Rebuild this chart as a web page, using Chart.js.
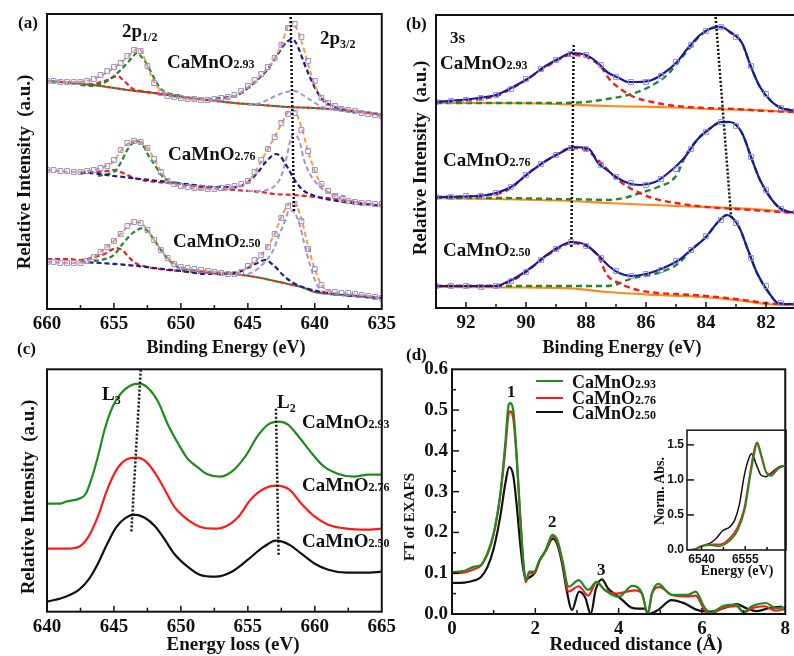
<!DOCTYPE html>
<html><head><meta charset="utf-8">
<script src="https://cdn.jsdelivr.net/npm/chart.js@4.4.1/dist/chart.umd.min.js"></script>
<style>
html,body{margin:0;padding:0;background:#fff;overflow:hidden;width:794px;height:656px;}
#wrap{position:relative;width:794px;height:656px;overflow:hidden;font-family:'Liberation Serif','Times New Roman',serif;font-weight:bold;color:#111;}
canvas{position:absolute;}
.t{position:absolute;white-space:nowrap;line-height:1;}
.c{transform:translate(-50%,-50%);}
.r{transform:translate(-50%,-50%) rotate(-90deg);}
.s{font-size:12px;}
sub{font-size:12px;vertical-align:-4px;}
.lg{position:absolute;height:0;border-top:2.5px solid;width:27px;}
</style></head><body><div id="wrap">
<canvas id="ca" width="400" height="340" style="left:0;top:0"></canvas>
<canvas id="cb" width="400" height="340" style="left:400px;top:0"></canvas>
<canvas id="cc" width="400" height="316" style="left:0;top:340px"></canvas>
<canvas id="cd" width="394" height="316" style="left:400px;top:340px"></canvas>
<canvas id="ci" width="144" height="160" style="left:650px;top:420px"></canvas>

<div class="t" style="left:18px;top:14px;font-size:17px">(a)</div>
<div class="t" style="left:122px;top:21px;font-size:19px">2p<sub>1/2</sub></div>
<div class="t" style="left:320px;top:28px;font-size:19px">2p<sub>3/2</sub></div>
<div class="t" style="left:167px;top:52px;font-size:19px">CaMnO<span class="s">2.93</span></div>
<div class="t" style="left:168px;top:144px;font-size:19px">CaMnO<span class="s">2.76</span></div>
<div class="t" style="left:173px;top:231px;font-size:19px">CaMnO<span class="s">2.50</span></div>
<div class="t r" style="left:23px;top:172px;font-size:19px">Relative Intensity&nbsp; (a.u.)</div>
<div class="t c" style="left:226px;top:347px;font-size:18px">Binding Energy (eV)</div>

<div class="t" style="left:406px;top:15px;font-size:17px">(b)</div>
<div class="t" style="left:450px;top:29px;font-size:17px">3s</div>
<div class="t" style="left:440px;top:53px;font-size:19px">CaMnO<span class="s">2.93</span></div>
<div class="t" style="left:443px;top:150px;font-size:19px">CaMnO<span class="s">2.76</span></div>
<div class="t" style="left:443px;top:240px;font-size:19px">CaMnO<span class="s">2.50</span></div>
<div class="t r" style="left:419px;top:158px;font-size:19px">Relative Intensity&nbsp; (a.u.)</div>
<div class="t c" style="left:622px;top:347px;font-size:18px">Binding Energy (eV)</div>

<div class="t" style="left:17px;top:340px;font-size:17px">(c)</div>
<div class="t" style="left:102px;top:384px;font-size:19px">L<sub>3</sub></div>
<div class="t" style="left:277px;top:392px;font-size:19px">L<sub>2</sub></div>
<div class="t" style="left:302px;top:412px;font-size:19px">CaMnO<span class="s">2.93</span></div>
<div class="t" style="left:302px;top:475px;font-size:19px">CaMnO<span class="s">2.76</span></div>
<div class="t" style="left:302px;top:531px;font-size:19px">CaMnO<span class="s">2.50</span></div>
<div class="t r" style="left:27px;top:497px;font-size:19px">Relative Intensity&nbsp; (a.u.)</div>
<div class="t c" style="left:233px;top:643px;font-size:19px">Energy loss (eV)</div>

<div class="t" style="left:406px;top:346px;font-size:17px">(d)</div>
<div class="t r" style="left:409px;top:517px;font-size:15px">FT of EXAFS</div>
<div class="t" style="left:507px;top:383px;font-size:17px">1</div>
<div class="t" style="left:548px;top:513px;font-size:17px">2</div>
<div class="t" style="left:597px;top:561px;font-size:17px">3</div>
<div class="lg" style="left:536px;top:380px;border-color:#1e8c1e"></div>
<div class="lg" style="left:536px;top:397px;border-color:#ff1a1a"></div>
<div class="lg" style="left:536px;top:411px;border-color:#111"></div>
<div class="t" style="left:572px;top:373px;font-size:18px">CaMnO<span class="s">2.93</span></div>
<div class="t" style="left:572px;top:389px;font-size:18px">CaMnO<span class="s">2.76</span></div>
<div class="t" style="left:572px;top:404px;font-size:18px">CaMnO<span class="s">2.50</span></div>
<div class="t c" style="left:636px;top:643px;font-size:19px">Reduced distance (Å)</div>
<div class="t r" style="left:660px;top:491px;font-size:14px">Norm. Abs.</div>
<div class="t c" style="left:737px;top:571px;font-size:14px">Energy (eV)</div>
</div>
<script>
// ---------- Panel (a): Mn 2p XPS ----------
const aEnergy = [660,659.5,659,658.5,658,657.5,657,656.5,656,655.5,655,654.5,654,653.5,653,652.5,652,651.5,651,650.5,650,649.5,649,648.5,648,647.5,647,646.5,646,645.5,645,644.5,644,643.5,643,642.5,642,641.5,641,640.5,640,639.5,639,638.5,638,637.5,637,636.5,636,635.5,635];
const aTickLabels = [660,655,650,645,640,635];
const a293Obs = [228,228,227,227,227,227,228,230,234,238,242,246,253,259,258,243,226,216,213,212,211,210,210,209,209,210,211,212,214,218,223,229,235,242,251,264,281,285,272,248,228,211,206,203,200,199,198,196,195,194,193];
const a276Obs = [139,139,138,138,137,137,138,139,141,143,149,159,166,168,167,161,150,137,128,125,123,122,121,121,120,120,121,122,123,125,128,137,149,160,172,186,195,196,179,158,139,125,118,113,110,108,107,106,106,105,105];
const a250Obs = [47,47,46,46,46,46,48,52,57,62,68,75,83,87,86,79,69,59,51,45,42,41,40,39,38,37,36,35,35,37,43,49,54,62,75,91,103,105,88,60,40,24,17,17,16,16,15,14,13,12,11];

const a293Fit = [[660,228],[658,227],[657,228],[656,233],[655,241],[654,252],[653.5,258],[653.2,261],[653,259],[652.5,243],[652,227],[651,214],[650,211],[648,209],[646,213],[645,222],[644,234],[643,250],[642.5,264],[642,283],[641.8,287],[641.5,284],[641,268],[640.5,245],[640,224],[639.5,212],[639,206],[638,201],[637,198],[636,195],[635,193]];
const a293Bg = [[660,228],[658,226],[656,223],[654,219],[652,216],[650,212],[648,209],[646,206],[644,204],[642,202],[640,201],[638,199],[636,196],[635,194]];
const a293Green = [[657.5,224],[656.5,223],[656,225],[655.5,228],[655,233],[654.5,239],[654,246],[653.6,252],[653.3,256],[653,253],[652.6,246],[652.2,236],[651.8,226],[651.4,219],[651,216],[650,213]];
const a293Red = [[657.5,224],[656.5,225],[656,227],[655.5,229],[655,232],[654.7,233],[654.4,230],[654,225],[653.6,220],[653,218],[652,216],[651,215],[650,213]];
const a293Blue = [[648,209],[647,211],[646,213],[645.5,216],[645,221],[644.3,229],[643.7,237],[643.3,244],[642.9,252],[642.6,258],[642.3,264],[642,268],[641.7,270],[641.4,266],[641.1,257],[640.8,246],[640.4,233],[639.9,219],[639.4,209],[638.7,203],[638,200],[637,197]];
const a293Lav = [[645,204],[644.3,205],[643.7,208],[643.1,212],[642.6,215],[642.1,217],[641.5,218],[640.9,214],[640.2,208],[639.4,202],[638.7,200],[638,199]];

const a276Fit = [[660,139],[658,137],[657,138],[656,141],[655,148],[654.5,158],[654,165],[653.5,168],[653,167],[652.5,161],[652,150],[651.5,138],[651,129],[650,123],[648,120],[646,122],[645,127],[644.5,136],[644,148],[643.5,160],[643,172],[642.5,185],[642,197],[641.7,199],[641.4,196],[641,182],[640.5,158],[640,138],[639.5,124],[639,117],[638,110],[637,107],[636,105],[635,104]];
const a276Blue = [[657.5,136],[657,136],[655,133],[653,130],[651,127],[649,124],[647.5,122],[646,122],[645.5,123],[645,127],[644.3,136],[643.6,148],[642.9,155],[642.6,153],[642.1,143],[641.5,129],[640.9,119],[640.2,114],[639.2,110],[637.8,107],[635,103]];
const a276Red = [[657.5,137],[656.5,137],[655.5,138],[655,139],[654.5,137],[654,134],[653.5,131],[652.5,128],[651,126],[649.5,124],[648,121],[646,119],[644,117],[643,115],[641.5,114],[640,112],[639,111],[638,109],[637,107],[636,105],[635,103]];
const a276Green = [[656.2,133],[655.5,135],[655,137],[654.5,146],[654.1,157],[653.6,166],[653.3,168],[652.8,163],[652.4,153],[651.9,143],[651.4,133],[650.9,128],[650,125]];
const a276Lav = [[645,118],[644.3,118],[643.1,122],[642.5,133],[642.1,152],[641.8,170],[641.6,175],[641.3,172],[641.1,166],[640.8,149],[640.4,136],[639.9,126],[639.2,118],[638.2,114],[637.5,112]];

const a250Fit = [[660,47],[658,46],[657,48],[656,57],[655,68],[654,82],[653.5,87],[653,86],[652.5,79],[652,69],[651,51],[650,42],[648,38],[646,35],[645,42],[644,54],[643,75],[642.5,92],[642,104],[641.7,107],[641.4,104],[641,90],[640.5,63],[640,40],[639.5,24],[639,18],[638,16],[636,13],[635,11]];
const a250Bg = [[650,40],[648,37],[646,35],[644,31],[643,28],[642,25],[641,22],[640,17],[639,15],[638,14],[636,12],[635,11]];
const a250Red = [[660,50],[658.5,50],[657.5,49],[657,50],[656.5,52],[655.7,55],[655.2,59],[654.8,61],[654.3,58],[653.9,52],[653.4,46],[652.5,42],[651,39],[650,38],[648,36],[646,35]];
const a250Blue = [[657.5,47],[656,46],[654,44],[652,41],[650,38],[648,35],[646,36],[645,41],[644.3,46],[643.7,49],[643.1,44],[642.3,33],[641.6,26],[640.7,21],[639.5,17],[638,14],[636,12],[635,11]];
const a250Green = [[656.5,48],[656,49],[655,54],[654.3,66],[653.6,76],[652.8,81],[652.2,73],[651.6,61],[650.9,49],[650,40],[649,38]];
const a250Lav = [[645,35],[644.5,38],[643.8,46],[643.1,59],[642.6,76],[642.2,89],[641.9,99],[641.5,96],[641.1,83],[640.8,66],[640.4,46],[639.9,26],[639.5,18],[639,16]];
const aGuide = [[641.8,292],[641.55,96]];

// ---------- Panel (b): Mn 3s XPS ----------
const bEnergy = [93,92.5,92,91.5,91,90.5,90,89.5,89,88.5,88,87.5,87,86.5,86,85.5,85,84.5,84,83.5,83,82.5,82,81.5,81];
const bTickLabels = [92,90,88,86,84,82];
const b293Obs = [206,207,208,210,213,219,229,239,248,254,253,243,231,226,226,232,246,263,277,281,271,242,214,200,197];
const b276Obs = [111,111,112,112,115,121,133,144,153,160,159,143,131,125,123,129,139,159,176,186,182,151,118,99,96];
const b250Obs = [22,22,22,21,22,27,36,48,59,66,62,50,37,32,34,38,47,58,72,88,85,50,22,5,4];
const b293Fit = [[93,206],[92.2,208],[91.6,210],[91,213],[90.5,220],[89.9,230],[89.4,241],[88.8,251],[88.5,255],[88,253],[87.6,245],[87.3,236],[86.9,230],[86.6,226],[86.3,226],[85.8,228],[85.4,235],[85,245],[84.6,260],[84.2,273],[83.8,280],[83.5,281],[83.2,276],[82.8,265],[82.5,241],[82.2,221],[81.8,206],[81.5,200],[81.2,198],[81,197]];
const b293Red = [[93,206],[91,212],[90.5,219],[90,228],[89.5,238],[89,247],[88.5,253],[88,251],[87.5,241],[87.2,228],[86.8,218],[86.4,211],[85.8,206],[85,202],[84,200],[83,199],[82,197],[81,196]];
const b293Green = [[93,205],[91,205],[89,205],[88,206],[87.3,209],[86.6,213],[85.9,221],[85.3,233],[84.9,247],[84.6,258],[84.2,272],[83.8,280],[83.5,281],[83.2,276],[82.8,265],[82.5,241],[82.2,221],[81.8,206],[81.5,200],[81.2,198]];
const b293Bg = [[93,205],[91,205],[89,204],[87.3,202],[85,200.5],[83.9,199],[82,197.5],[81,196]];
const b276Fit = [[93,111],[91.6,112],[91,115],[90.5,121],[89.9,135],[89.4,146],[88.8,156],[88.4,161],[87.9,159],[87.6,145],[87.3,138],[87,131],[86.6,125],[86.2,123],[85.7,126],[85.3,134],[84.7,151],[84.3,168],[83.8,181],[83.5,186],[83.2,186],[82.8,175],[82.5,151],[82.2,128],[81.8,108],[81.5,99],[81.2,96],[81,95]];
const b276Red = [[93,111],[91,114],[90.5,120],[90,133],[89.5,144],[89,153],[88.5,160],[88,158],[87.5,145],[87,130],[86.6,121],[86.2,115],[85.8,110],[85,105],[84,101],[83,99],[82,97],[81,95]];
const b276Green = [[93,110],[91,110],[89,109],[88,108.5],[87.3,108],[86.6,111],[86.2,115],[85.6,121],[85,132],[84.7,151],[84.3,168],[83.8,181],[83.5,186],[83.2,186],[82.8,175],[82.5,151],[82.2,128],[81.8,108],[81.5,99],[81.2,96]];
const b276Bg = [[93,110],[91,109],[88.5,107],[87.3,105],[85,102],[83.9,101],[82,98],[81,95]];
const b250Fit = [[93,22],[91,22],[90.7,25],[90.3,31],[89.8,41],[89.4,51],[88.9,61],[88.5,66],[88,63],[87.6,53],[87.2,41],[86.9,35],[86.5,32],[86,34],[85.5,39],[84.9,48],[84.5,58],[84,71],[83.6,86],[83.3,93],[82.9,81],[82.6,58],[82.3,35],[81.9,15],[81.6,5],[81.2,4],[81,4]];
const b250Red = [[93,22],[91,22],[90.5,27],[90,36],[89.5,48],[89,58],[88.5,65],[88,62],[87.6,52],[87.3,33],[86.9,25],[86.4,19],[85.6,15],[85,14],[84,12],[83,9],[82.5,7],[82,5],[81,3]];
const b250Green = [[93,22],[89,22],[88,22],[87.3,22],[86.4,30],[85.6,35],[84.9,45],[84.5,58],[84,71],[83.6,86],[83.3,93],[82.9,81],[82.6,58],[82.3,35],[81.9,15],[81.6,5],[81.2,4]];
const b250Bg = [[93,21],[90,20.5],[88.5,19.7],[87.3,16],[85.6,13],[83.9,10.7],[82.8,7.3],[82,4],[81,3]];
const bGuideL = [[88.41,263],[88.49,61]];
const bGuideR = [[83.68,291],[83.16,90]];

// ---------- Panel (c): EELS ----------
const cTickLabels = [640,645,650,655,660,665];
const c293 = [[640,108],[641,108],[641.4,110],[642.4,113],[642.9,118],[643.3,132],[643.8,155],[644.3,182],[644.9,205],[645.5,218],[646.2,226],[646.9,228],[647.6,223],[648.3,210],[649,188],[649.8,168],[650.5,153],[651.2,145],[651.9,138],[652.9,135],[653.8,140],[654.8,155],[655.7,175],[656.5,187],[657.3,190],[658,187],[658.8,175],[659.8,158],[660.7,145],[661.7,138],[662.9,135],[664,137],[665,137]];
const c276 = [[640,63],[641.4,63],[642.4,65],[643.1,75],[643.8,95],[644.5,122],[645.2,142],[645.9,152],[646.7,154],[647.4,150],[648.1,138],[648.8,122],[649.5,105],[650.5,92],[651.4,85],[652.4,83],[653.3,85],[654.3,95],[655.2,112],[656.2,123],[657.1,126],[658.1,122],[659,108],[660,95],[661,87],[662.4,83],[663.8,82],[665,83]];
const c250 = [[640,10],[641.4,15],[642.4,22],[643.1,32],[643.8,48],[644.5,68],[645.2,85],[645.9,94],[646.5,97],[647.3,94],[648.1,85],[648.8,72],[649.5,58],[650.5,45],[651.4,37],[652.6,35],[653.8,40],[655,52],[656.2,65],[657.1,71],[658.1,67],[659,58],[660,48],[661,42],[662.4,39],[663.8,39],[665,40]];
const cGuideL3 = [[647.0,242],[646.3,80]];
const cGuideL2 = [[657.1,203],[657.3,55]];

// ---------- Panel (d): EXAFS FT + XANES inset ----------
const dTickX = [0,2,4,6,8];
const dTickY = [0,0.1,0.2,0.3,0.4,0.5,0.6];
const d293 = [[0,0.103],[0.3,0.106],[0.53,0.116],[0.69,0.12],[0.85,0.149],[1.0,0.198],[1.16,0.296],[1.28,0.419],[1.35,0.508],[1.39,0.517],[1.47,0.5],[1.55,0.394],[1.63,0.255],[1.71,0.132],[1.77,0.083],[1.86,0.104],[1.98,0.104],[2.1,0.132],[2.25,0.157],[2.41,0.194],[2.53,0.181],[2.65,0.132],[2.8,0.067],[3.04,0.083],[3.27,0.059],[3.47,0.079],[3.66,0.059],[4.0,0.042],[4.33,0.069],[4.56,0.051],[4.7,0.0],[4.8,0.051],[4.95,0.074],[5.27,0.047],[5.66,0.047],[5.85,0.055],[6.05,0.018],[6.2,0.003],[6.52,0.02],[6.83,0.023],[6.99,0.005],[7.22,0.02],[7.54,0.027],[7.77,0.014],[8.0,0.017]];
const d276 = [[0,0.1],[0.3,0.102],[0.53,0.11],[0.69,0.118],[0.85,0.146],[1.0,0.195],[1.16,0.29],[1.28,0.405],[1.35,0.485],[1.39,0.497],[1.47,0.48],[1.55,0.385],[1.63,0.25],[1.71,0.128],[1.77,0.078],[1.86,0.1],[1.98,0.1],[2.1,0.13],[2.25,0.155],[2.42,0.19],[2.53,0.176],[2.65,0.128],[2.8,0.055],[3.04,0.068],[3.27,0.045],[3.47,0.078],[3.66,0.06],[3.94,0.05],[4.2,0.055],[4.4,0.058],[4.56,0.05],[4.7,0.0],[4.8,0.05],[4.98,0.066],[5.3,0.046],[5.66,0.043],[5.85,0.045],[6.05,0.012],[6.2,0.0],[6.5,0.015],[6.83,0.019],[7.0,0.004],[7.22,0.015],[7.5,0.019],[7.77,0.008],[8.0,0.012]];
const d250 = [[0,0.076],[0.3,0.077],[0.53,0.082],[0.69,0.09],[0.85,0.115],[1.0,0.16],[1.16,0.24],[1.28,0.32],[1.37,0.36],[1.47,0.34],[1.55,0.27],[1.63,0.18],[1.71,0.11],[1.78,0.085],[1.86,0.09],[1.98,0.1],[2.1,0.13],[2.25,0.155],[2.42,0.185],[2.53,0.17],[2.65,0.12],[2.75,0.06],[2.88,0.01],[3.05,0.055],[3.2,0.04],[3.33,0.0],[3.45,0.06],[3.6,0.085],[3.75,0.062],[3.9,0.05],[4.09,0.034],[4.3,0.016],[4.48,0.013],[4.62,0.013],[4.72,0.0],[4.95,0.01],[5.27,0.034],[5.58,0.026],[5.88,0.01],[6.2,0.006],[6.68,0.02],[6.83,0.024],[7.07,0.014],[7.3,0.007],[7.6,0.014],[7.92,0.018]];
const iTickX = [6540,6555];
const iTickY = [0,0.5,1,1.5];
const i250 = [[6535,0],[6537.5,0.01],[6539.4,0.037],[6541,0.07],[6542.8,0.094],[6545,0.163],[6547.3,0.279],[6549.6,0.325],[6551.3,0.419],[6553,0.652],[6554.7,1.07],[6556.4,1.327],[6557.2,1.373],[6558.7,1.233],[6560.4,1.07],[6562.1,1.047],[6564.4,1.117],[6566.6,1.187],[6568.8,1.21]];
const i276 = [[6535,0],[6537.5,0.005],[6539.4,0.05],[6542.8,0.08],[6546.1,0.08],[6549.6,0.163],[6552.4,0.325],[6554.7,0.605],[6556.4,1.024],[6557.7,1.35],[6558.9,1.527],[6560.4,1.35],[6562.1,1.117],[6563.8,1.08],[6566.1,1.164],[6568.8,1.21]];
const i293 = [[6535,0],[6537.5,0.005],[6539.4,0.045],[6542.8,0.07],[6546.1,0.056],[6549.6,0.13],[6552.4,0.28],[6555,0.605],[6556.6,1.024],[6558,1.35],[6559.1,1.536],[6560.7,1.33],[6562.4,1.09],[6563.9,1.06],[6566.3,1.16],[6568.8,1.21]];

// ---------- colours ----------
const COL = {sq:'#8c8ce0', orange:'#ff9a3c', green:'#22882a', red:'#f01e1e', blue:'#1b1b96', lav:'#a293d6', dot:'#111',
             bBlue:'#1a1aa0', bOrange:'#ff8a1a', cGreen:'#1e8c1e', cRed:'#ff1a1a', cBlack:'#111'};

// ---------- helpers ----------
const pts = arr => arr.map(([x,y]) => ({x, y}));
const xy = (xs, ys) => xs.map((x,i) => ({x, y: ys[i]}));
function line(data, color, w, dash, off){
  return {data: pts(data), showLine:true, borderColor:color, borderWidth:w||2, borderDash:dash||[], borderDashOffset:off||0,
          pointRadius:0, fill:false, cubicInterpolationMode:'monotone'};
}
function squares(xs, ys){
  return {data: xy(xs, ys), showLine:false, pointStyle:'rect', pointRadius:3.4, pointBorderWidth:1,
          pointBorderColor:COL.sq, pointBackgroundColor:'rgba(255,255,255,0)'};
}
const guide = d => line(d, COL.dot, 2.5, [2,2]);
const onList = (list, v) => list.some(l => Math.abs(l - v) < 1e-6);

const framePlugin = {
  id:'frame',
  afterDraw(chart, args, o){
    const {ctx, chartArea:{left, top, right, bottom}} = chart;
    ctx.save();
    ctx.strokeStyle = '#111'; ctx.lineWidth = o.lw || 2;
    ctx.strokeRect(left, top, right-left, bottom-top);
    ctx.lineWidth = o.tw || 1.5;
    const xs = chart.scales.x;
    xs.ticks.forEach(t => {
      const px = xs.getPixelForValue(t.value);
      if (px < left + 1 || px > right - 1) return;
      const len = onList(o.xLabels, t.value) ? o.xMaj : o.xMin;
      ctx.beginPath(); ctx.moveTo(px, bottom); ctx.lineTo(px, bottom - len); ctx.stroke();
    });
    if (o.yLabels){
      const ys = chart.scales.y;
      ys.ticks.forEach(t => {
        const py = ys.getPixelForValue(t.value);
        if (py < top + 1 || py > bottom - 1) return;
        const len = onList(o.yLabels, t.value) ? o.yMaj : o.yMin;
        ctx.beginPath(); ctx.moveTo(left, py); ctx.lineTo(left + len, py); ctx.stroke();
      });
    }
    ctx.restore();
  }
};

function make(id, datasets, c){
  const serif = {family:"'Liberation Serif','Times New Roman',serif", weight:'bold', size:c.fs||19};
  const scales = {
    x: {type:'linear', min:c.xmin, max:c.xmax, reverse:!!c.reverse,
        afterFit: s => { s.height = c.xH || 30; },
        grid:{display:false, drawTicks:false}, border:{display:false},
        ticks:{stepSize:c.xstep, autoSkip:false, maxRotation:0, includeBounds:false, padding:c.xpad||4, color:'#111',
               font:c.xfont||serif, callback: v => onList(c.xLabels, v) ? (c.xfmt ? c.xfmt(v) : String(v)) : ''}},
    y: {type:'linear', min:c.ymin, max:c.ymax, display:!!c.yLabels,
        afterFit: s => { s.width = c.yW || 0; },
        grid:{display:false, drawTicks:false}, border:{display:false},
        ticks:{stepSize:c.ystep, autoSkip:false, includeBounds:false, padding:c.ypad||4, color:'#111',
               font:c.yfont||serif, callback: v => (c.yLabels && onList(c.yLabels, v)) ? v.toFixed(1) : ''}}
  };
  return new Chart(document.getElementById(id), {
    type:'scatter',
    data:{datasets},
    options:{responsive:false, animation:false, events:[],
      layout:{padding:c.pad, autoPadding:false},
      plugins:{legend:{display:false}, tooltip:{enabled:false},
               frame:{lw:c.lw||2, xLabels:c.xLabels, xMaj:c.xMaj||6, xMin:c.xMin||4, yLabels:c.yLabels, yMaj:7, yMin:4}},
      scales},
    plugins:[framePlugin]
  });
}

// ---- (a)
const dashA = [5,3];
make('ca', [
  guide(aGuide),
  squares(aEnergy, a293Obs), squares(aEnergy, a276Obs), squares(aEnergy, a250Obs),
  line(a293Fit, COL.orange, 2, dashA), line(a276Fit, COL.orange, 2, dashA), line(a250Fit, COL.orange, 2, dashA),
  line(a293Blue, COL.blue, 2.2, dashA), line(a276Blue, COL.blue, 2.2, dashA), line(a250Blue, COL.blue, 2.2, dashA),
  line(a293Lav, COL.lav, 2, dashA), line(a276Lav, COL.lav, 2, dashA), line(a250Lav, COL.lav, 2, dashA),
  line(a293Green, COL.green, 2.2, dashA), line(a276Green, COL.green, 2.2, dashA), line(a250Green, COL.green, 2.2, dashA),
  line(a293Red, COL.red, 2.2, dashA), line(a276Red, COL.red, 2.2, dashA), line(a250Red, COL.red, 2.2, dashA),
  line(a293Bg, COL.red, 2.2, [5,5], 0), line(a293Bg, COL.green, 2.2, [5,5], 5),
  line(a250Bg, COL.red, 2.2, [5,5], 0), line(a250Bg, COL.green, 2.2, [5,5], 5)
], {xmin:635, xmax:660, reverse:true, xstep:2.5, xLabels:aTickLabels, ymin:0, ymax:295,
    pad:{left:47, top:14, right:6, bottom:1}});

// ---- (b)
const dashB = [6,4];
make('cb', [
  guide(bGuideL), guide(bGuideR),
  squares(bEnergy, b293Obs), squares(bEnergy, b276Obs), squares(bEnergy, b250Obs),
  line(b293Fit, COL.bBlue, 2.2), line(b276Fit, COL.bBlue, 2.2), line(b250Fit, COL.bBlue, 2.2),
  line(b293Red, COL.red, 2.4, dashB), line(b276Red, COL.red, 2.4, dashB), line(b250Red, COL.red, 2.4, dashB),
  line(b293Green, COL.green, 2.4, dashB), line(b276Green, COL.green, 2.4, dashB), line(b250Green, COL.green, 2.4, dashB),
  line(b293Bg, COL.bOrange, 2.2), line(b276Bg, COL.bOrange, 2.2), line(b250Bg, COL.bOrange, 2.2)
], {xmin:81, xmax:93, reverse:true, xstep:1, xLabels:bTickLabels, ymin:0, ymax:293,
    pad:{left:36, top:15, right:2, bottom:2}});

// ---- (c)
make('cc', [
  guide(cGuideL3), guide(cGuideL2),
  line(c293, COL.cGreen, 2.2), line(c276, COL.cRed, 2.2), line(c250, COL.cBlack, 2.2)
], {xmin:640, xmax:665, xstep:2.5, xLabels:cTickLabels, ymin:0, ymax:242.4,
    pad:{left:47, top:29.3, right:5, bottom:14.3}});

// ---- (d)
make('cd', [
  line(d293, COL.cGreen, 2.2), line(d276, COL.cRed, 2.2), line(d250, COL.cBlack, 2.2)
], {xmin:0, xmax:8, xstep:1, xLabels:dTickX, ymin:0, ymax:0.6, ystep:0.05, yLabels:dTickY, yW:52,
    pad:{left:0, top:29.3, right:1, bottom:12}});

// ---- inset
const sans = {family:"'Liberation Sans',Arial,sans-serif", weight:'bold', size:12};
make('ci', [
  line(i293, COL.cGreen, 1.8), line(i276, COL.cRed, 1.8), line(i250, COL.cBlack, 1.5)
], {xmin:6535, xmax:6569, xstep:7.5, xLabels:iTickX, ymin:0, ymax:1.71, ystep:0.5, yLabels:iTickY, yW:37,
    xfont:sans, yfont:sans, xH:20, xpad:2, ypad:3, lw:1.5, xMaj:4, xMin:3,
    pad:{left:0, top:7.7, right:8, bottom:10}});
</script>
</body></html>
